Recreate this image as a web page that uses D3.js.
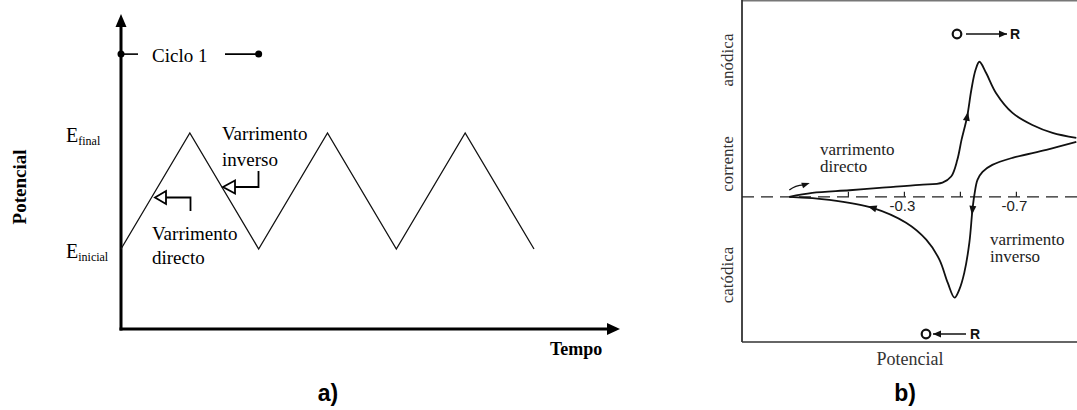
<!DOCTYPE html>
<html>
<head>
<meta charset="utf-8">
<script src="https://cdn.jsdelivr.net/npm/d3@7"></script>
<style>
  body { margin: 0; background: #fff; }
  svg { display: block; }
  .serif { font-family: "Liberation Serif", "Times New Roman", serif; }
  .sans { font-family: "Liberation Sans", Arial, sans-serif; }
</style>
</head>
<body>
<div id="chart-area"></div>
<script>
// panel a: triangular potential waveform (0 = E inicial, 1 = E final)
const cycleTime = [0, 1, 2, 3, 4, 5, 6];
const cyclePotential = [0, 1, 0, 1, 0, 1, 0];
const cicloSpan = [0, 2];
const cicloLevel = 1.68;

// panel b: cyclic voltammogram (potential in V, current in arbitrary units)
// forward scan
const fwdPotential = [0.111, 0.029, -0.104, -0.211, -0.354, -0.436, -0.467, -0.489, -0.504, -0.524,
  -0.539, -0.554, -0.568, -0.592, -0.627, -0.686, -0.757, -0.829, -0.914];
const fwdCurrent = [0, 0.29, 0.48, 0.66, 0.88, 1.05, 1.49, 2.72, 4.19, 5.90,
  7.87, 9.34, 9.95, 9.12, 7.65, 6.18, 5.29, 4.71, 4.34];
// reverse scan
const revPotential = [-0.914, -0.807, -0.686, -0.614, -0.579, -0.561, -0.550, -0.543, -0.532, -0.514,
  -0.496, -0.479, -0.455, -0.425, -0.378, -0.306, -0.186, -0.032, 0.111];
const revCurrent = [4.04, 3.46, 2.87, 2.35, 1.84, 1.25, 0.15, -0.96, -3.38, -5.59,
  -6.84, -7.43, -6.35, -4.63, -3.16, -1.91, -0.81, -0.22, 0];
const fwdArrowIndex = [9];
const revArrowIndex = [7, 16];
const tickPotential = [-0.1, -0.3, -0.5, -0.7];
const tickLabels = { "-0.3": "-0.3", "-0.7": "-0.7" };

const svg = d3.select("#chart-area").append("svg")
  .attr("width", 1077).attr("height", 410);

// ---------- panel a ----------
const xA = d3.scaleLinear().domain([0, 6]).range([121, 534]);
const yA = d3.scaleLinear().domain([0, 1]).range([249, 133]);
const a = svg.append("g");

// axes with arrows
a.append("line").attr("x1", 121).attr("y1", 330.5).attr("x2", 121).attr("y2", 26)
  .attr("stroke", "#000").attr("stroke-width", 3);
a.append("path").attr("d", "M115.5,27 L121,14 L126.5,27 Z").attr("fill", "#000");
a.append("line").attr("x1", 119.5).attr("y1", 329).attr("x2", 609).attr("y2", 329)
  .attr("stroke", "#000").attr("stroke-width", 3);
a.append("path").attr("d", "M607,323 L620,329 L607,335 Z").attr("fill", "#000");

a.append("path")
  .datum(d3.zip(cycleTime, cyclePotential))
  .attr("d", d3.line().x(d => xA(d[0])).y(d => yA(d[1])))
  .attr("fill", "none").attr("stroke", "#111").attr("stroke-width", 1.3);

// Ciclo 1 marker
const yc = yA(cicloLevel);
a.append("line").attr("x1", xA(cicloSpan[0])).attr("x2", 138).attr("y1", yc).attr("y2", yc)
  .attr("stroke", "#000").attr("stroke-width", 1.6);
a.append("line").attr("x1", 225).attr("x2", xA(cicloSpan[1])).attr("y1", yc).attr("y2", yc)
  .attr("stroke", "#000").attr("stroke-width", 1.6);
a.selectAll("circle.cyc").data(cicloSpan).enter().append("circle")
  .attr("cx", d => xA(d)).attr("cy", yc).attr("r", 3.5).attr("fill", "#000");
a.append("text").attr("class", "serif").attr("x", 152).attr("y", 62)
  .attr("font-size", 19).text("Ciclo 1");

// E labels
const eLab = [["final", 1, 66], ["inicial", 0, 66]];
eLab.forEach(([sub, v, x]) => {
  const t = a.append("text").attr("class", "serif").attr("x", x).attr("y", yA(v) + 9)
    .attr("font-size", 20).text("E");
  t.append("tspan").attr("font-size", 12).attr("dy", 3).text(sub);
});

// Varrimento annotations
a.append("text").attr("class", "serif").attr("font-size", 19)
  .selectAll("tspan").data(["Varrimento", "inverso"]).enter().append("tspan")
  .attr("x", 222).attr("y", (d, i) => 140 + i * 26).text(d => d);
a.append("text").attr("class", "serif").attr("font-size", 19)
  .selectAll("tspan").data(["Varrimento", "directo"]).enter().append("tspan")
  .attr("x", 152).attr("y", (d, i) => 240 + i * 23.5).text(d => d);

// open bent arrows
const bent = [
  { tip: [223, 187], base: 235, end: 258.5, vy: 171 },
  { tip: [155, 197.5], base: 166, end: 190.5, vy: 211 }
];
bent.forEach(b => {
  a.append("path")
    .attr("d", `M${b.tip[0]},${b.tip[1]} L${b.base},${b.tip[1] - 6.5} L${b.base},${b.tip[1] + 6.5} Z`)
    .attr("fill", "#fff").attr("stroke", "#000").attr("stroke-width", 1.8);
  a.append("path")
    .attr("d", `M${b.base},${b.tip[1]} H${b.end} V${b.vy}`)
    .attr("fill", "none").attr("stroke", "#000").attr("stroke-width", 1.8);
});

a.append("text").attr("class", "serif").attr("font-weight", "bold").attr("font-size", 19)
  .attr("transform", "translate(26,187) rotate(-90)").attr("text-anchor", "middle").text("Potencial");
a.append("text").attr("class", "serif").attr("font-weight", "bold").attr("font-size", 18)
  .attr("x", 550).attr("y", 355).text("Tempo");
a.append("text").attr("class", "sans").attr("font-weight", "bold").attr("font-size", 23)
  .attr("x", 328).attr("y", 401).attr("text-anchor", "middle").text("a)");

// ---------- panel b ----------
const xB = d3.scaleLinear().domain([0.28, -0.92]).range([742, 1078]);
const yB = d3.scaleLinear().domain([-10.7, 14.5]).range([342, 0]);
const b = svg.append("g");

svg.append("clipPath").attr("id", "clipB").append("rect")
  .attr("x", 742).attr("y", 0).attr("width", 335).attr("height", 342);

b.append("line").attr("x1", 742).attr("x2", 1077).attr("y1", 0.8).attr("y2", 0.8)
  .attr("stroke", "#777").attr("stroke-width", 1.6);
b.append("line").attr("x1", 742).attr("x2", 742).attr("y1", 0).attr("y2", 342)
  .attr("stroke", "#333").attr("stroke-width", 1.8);
b.append("line").attr("x1", 742).attr("x2", 1077).attr("y1", 342).attr("y2", 342)
  .attr("stroke", "#333").attr("stroke-width", 1.6);

// zero line + ticks
b.append("line").attr("x1", 742).attr("x2", 1077).attr("y1", yB(0)).attr("y2", yB(0))
  .attr("stroke", "#222").attr("stroke-width", 1.3).attr("stroke-dasharray", "12,7");
b.selectAll("line.tk").data(tickPotential).enter().append("line")
  .attr("x1", d => xB(d)).attr("x2", d => xB(d)).attr("y1", yB(0) - 5).attr("y2", yB(0))
  .attr("stroke", "#222").attr("stroke-width", 1.2);
b.selectAll("text.tk").data(tickPotential.filter(d => tickLabels[d.toFixed(1)])).enter()
  .append("text").attr("class", "sans").attr("font-size", 15)
  .attr("x", d => xB(d) - 2).attr("y", yB(0) + 14).attr("text-anchor", "middle")
  .attr("fill", "#222").text(d => tickLabels[d.toFixed(1)]);

// voltammogram, one path per scan direction
const cvLine = d3.line().x(d => xB(d[0])).y(d => yB(d[1])).curve(d3.curveCatmullRom.alpha(0.5));
const scans = [
  { pts: d3.zip(fwdPotential, fwdCurrent), arrows: fwdArrowIndex },
  { pts: d3.zip(revPotential, revCurrent), arrows: revArrowIndex }
];
const cvG = b.append("g").attr("clip-path", "url(#clipB)");
scans.forEach(s => {
  cvG.append("path").datum(s.pts).attr("d", cvLine)
    .attr("fill", "none").attr("stroke", "#111").attr("stroke-width", 1.8);
  // direction arrows on the curve
  s.arrows.forEach(k => {
    const p = s.pts[k], p0 = s.pts[k - 1], p1 = s.pts[k + 1];
    const ang = Math.atan2(yB(p1[1]) - yB(p0[1]), xB(p1[0]) - xB(p0[0])) * 180 / Math.PI;
    cvG.append("path").attr("d", "M5,0 L-4,-3.5 L-4,3.5 Z").attr("fill", "#111")
      .attr("transform", `translate(${xB(p[0])},${yB(p[1])}) rotate(${ang})`);
  });
});

// start arrow
b.append("path").attr("d", `M${xB(0.111)},${yB(0.5)} Q${xB(0.09)},${yB(0.85)} ${xB(0.06)},${yB(0.88)}`)
  .attr("fill", "none").attr("stroke", "#111").attr("stroke-width", 1.3);
b.append("path").attr("d", "M5,0 L-3,-3 L-3,3 Z").attr("fill", "#111")
  .attr("transform", `translate(${xB(0.055)},${yB(0.9)}) rotate(-18)`);

// O -> R labels
const redox = [
  { y: 34, o: 952, a1: 966, a2: 1007, r: 1010, dir: 1 },
  { y: 334, o: 921, a1: 933, a2: 966, r: 970, dir: -1 }
];
redox.forEach(d => {
  b.append("circle").attr("cx", d.o + 5).attr("cy", d.y).attr("r", 4.3)
    .attr("fill", "none").attr("stroke", "#111").attr("stroke-width", 2.2);
  b.append("line").attr("x1", d.a1).attr("x2", d.a2).attr("y1", d.y).attr("y2", d.y)
    .attr("stroke", "#111").attr("stroke-width", 1.6);
  const tip = d.dir > 0 ? d.a2 : d.a1;
  b.append("path").attr("d", `M${tip},${d.y} L${tip - d.dir * 8},${d.y - 3.5} L${tip - d.dir * 8},${d.y + 3.5} Z`)
    .attr("fill", "#111");
  b.append("text").attr("class", "sans").attr("font-weight", "bold").attr("font-size", 14)
    .attr("x", d.r).attr("y", d.y + 5).attr("fill", "#111").text("R");
});

// texts
b.append("text").attr("class", "serif").attr("font-size", 17).attr("fill", "#222")
  .selectAll("tspan").data(["varrimento", "directo"]).enter().append("tspan")
  .attr("x", 820).attr("y", (d, i) => 155 + i * 17).text(d => d);
b.append("text").attr("class", "serif").attr("font-size", 17).attr("fill", "#222")
  .selectAll("tspan").data(["varrimento", "inverso"]).enter().append("tspan")
  .attr("x", 990).attr("y", (d, i) => 245 + i * 17).text(d => d);

const yLabels = [["anódica", 60], ["corrente", 164], ["catódica", 275]];
b.selectAll("text.yl").data(yLabels).enter().append("text").attr("class", "serif")
  .attr("font-size", 17).attr("fill", "#333").attr("text-anchor", "middle")
  .attr("transform", d => `translate(733,${d[1]}) rotate(-90)`).text(d => d[0]);

b.append("text").attr("class", "serif").attr("font-size", 18).attr("fill", "#333")
  .attr("x", 910).attr("y", 365).attr("text-anchor", "middle").text("Potencial");
b.append("text").attr("class", "sans").attr("font-weight", "bold").attr("font-size", 23)
  .attr("x", 905).attr("y", 401).attr("text-anchor", "middle").text("b)");
</script>
</body>
</html>
